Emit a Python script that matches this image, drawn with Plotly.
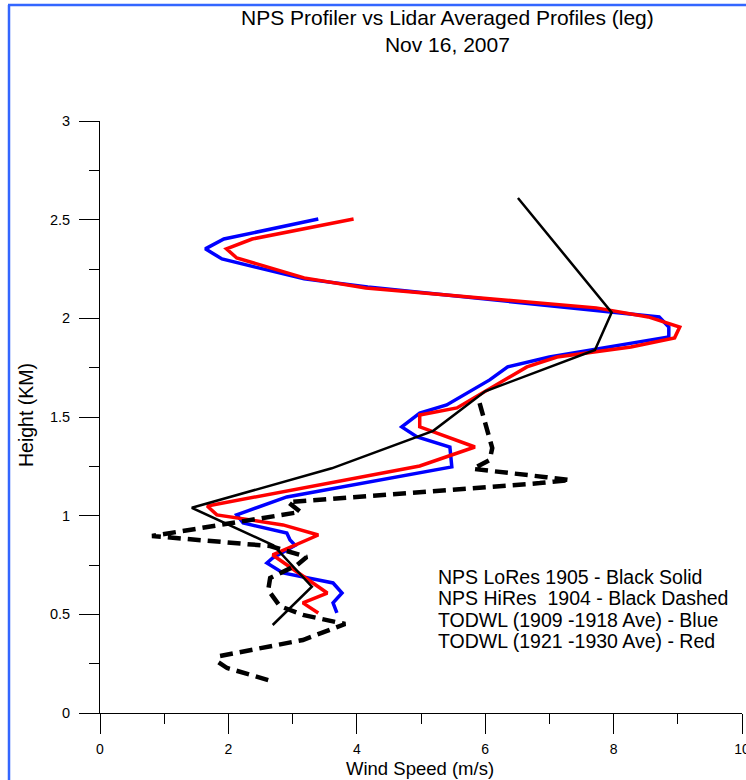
import plotly.graph_objects as go

# ---------------- data (wind speed m/s, height km) ----------------
lores_speed = [2.69, 3.30, 2.70, 1.43, 3.61, 5.19, 6.00, 7.71, 7.97, 6.51]
lores_height = [0.446, 0.64, 0.85, 1.04, 1.24, 1.43, 1.63, 1.84, 2.03, 2.61]

hires_speed = [2.62, 1.98, 1.84, 1.87, 3.16, 3.82, 3.16, 2.80, 2.62, 2.65, 3.07, 3.22,
               2.65, 0.81, 3.12, 2.93, 6.85, 7.32, 6.95, 5.81, 6.07, 6.11, 5.89]
hires_height = [0.167, 0.228, 0.258, 0.289, 0.370, 0.451, 0.497, 0.542, 0.623, 0.684, 0.750, 0.791,
                0.846, 0.897, 1.019, 1.069, 1.165, 1.181, 1.195, 1.237, 1.282, 1.343, 1.597]

blue_speed = [3.69, 3.63, 3.77, 3.63, 2.85, 2.60, 2.69, 3.04, 2.96, 2.91, 2.23, 2.13, 2.91,
              5.48, 5.45, 4.94, 4.70, 4.98, 5.40, 6.07, 6.35, 7.00, 8.86, 8.86, 8.71,
              4.17, 3.18, 1.90, 1.64, 1.93, 3.40]
blue_height = [0.507, 0.558, 0.608, 0.659, 0.710, 0.760, 0.786, 0.850, 0.877, 0.912, 0.963, 1.004, 1.095,
               1.247, 1.348, 1.399, 1.450, 1.520, 1.561, 1.688, 1.754, 1.804, 1.906, 1.956, 2.007,
               2.159, 2.200, 2.301, 2.352, 2.402, 2.503]

red_speed = [3.40, 3.16, 3.54, 3.01, 2.69, 3.40, 2.85, 1.82, 1.67, 4.98, 5.84, 4.98, 4.98,
             5.56, 6.29, 6.65, 7.12, 8.27, 8.95, 9.03, 8.54, 7.73, 4.14, 3.18, 2.13, 1.97,
             2.37, 3.21, 3.95]
red_height = [0.507, 0.558, 0.608, 0.725, 0.801, 0.902, 0.953, 1.004, 1.049, 1.252, 1.348, 1.450, 1.510,
              1.546, 1.688, 1.754, 1.804, 1.855, 1.901, 1.956, 2.007, 2.053, 2.154, 2.205, 2.306, 2.352,
              2.402, 2.458, 2.503]

x_ticks = [0, 2, 4, 6, 8, 10]
y_ticks = [0, 0.5, 1, 1.5, 2, 2.5, 3]
y_tick_labels = ["0", "0.5", "1", "1.5", "2", "2.5", "3"]

title_lines = ["NPS Profiler vs Lidar Averaged Profiles (leg)", "Nov 16, 2007"]
legend_lines = ["NPS LoRes 1905 - Black Solid",
                "NPS HiRes  1904 - Black Dashed",
                "TODWL (1909 -1918 Ave) - Blue",
                "TODWL (1921 -1930 Ave) - Red"]

# ---------------- figure ----------------
W, H = 746, 780
ML, MR, MT, MB = 100, 4, 121, 67
pw, ph = W - ML - MR, H - MT - MB

def px(x):  # pixel -> paper x
    return (x - ML) / pw

def py(y):  # pixel -> paper y
    return (H - MB - y) / ph

FONT = "Liberation Sans, Arial, sans-serif"

fig = go.Figure()
fig.add_trace(go.Scatter(x=blue_speed, y=blue_height, mode="lines",
                         line=dict(color="#0000ff", width=3.5), hoverinfo="skip"))
fig.add_trace(go.Scatter(x=red_speed, y=red_height, mode="lines",
                         line=dict(color="#ff0000", width=3.5), hoverinfo="skip"))
fig.add_trace(go.Scatter(x=lores_speed, y=lores_height, mode="lines",
                         line=dict(color="black", width=2.5), hoverinfo="skip"))
fig.add_trace(go.Scatter(x=hires_speed, y=hires_height, mode="lines",
                         line=dict(color="black", width=4.5, dash="13px,7px"), hoverinfo="skip"))

fig.update_layout(
    width=W, height=H,
    margin=dict(l=ML, r=MR, t=MT, b=MB, pad=0, autoexpand=False),
    paper_bgcolor="white", plot_bgcolor="white",
    showlegend=False,
    font=dict(family=FONT, color="black"),
)
fig.update_xaxes(range=[0, 10], tickvals=x_ticks, ticks="outside", ticklen=20, tickwidth=1,
                 tickcolor="black", showline=True, linecolor="black", linewidth=1,
                 showgrid=False, zeroline=False, tickfont=dict(size=14, family=FONT),
                 ticklabelstandoff=3, ticklabeloverflow="allow", automargin=False,
                 minor=dict(dtick=1, ticks="outside", ticklen=10, tickcolor="black", tickwidth=1, showgrid=False))
fig.update_yaxes(range=[0, 3], tickvals=y_ticks, ticktext=y_tick_labels, ticks="outside", ticklen=20,
                 tickwidth=1, tickcolor="black", showline=True, linecolor="black", linewidth=1,
                 showgrid=False, zeroline=False, tickfont=dict(size=14.5, family=FONT),
                 ticklabelstandoff=6, ticklabeloverflow="allow", automargin=False,
                 minor=dict(dtick=0.25, ticks="outside", ticklen=10, tickcolor="black", tickwidth=1, showgrid=False))

# axis titles
fig.add_annotation(text="Wind Speed (m/s)", xref="paper", yref="paper", x=px(420), y=py(768),
                   xanchor="center", yanchor="middle", showarrow=False,
                   font=dict(size=18.5, family=FONT, color="black"))
fig.add_annotation(text="Height (KM)", xref="paper", yref="paper", x=px(26), y=py(415),
                   xanchor="center", yanchor="middle", showarrow=False, textangle=-90,
                   font=dict(size=19.5, family=FONT, color="black"))

# chart title (two lines)
fig.add_annotation(text="<br>".join(title_lines), xref="paper", yref="paper",
                   x=px(447), y=py(31), xanchor="center", yanchor="middle", showarrow=False,
                   font=dict(size=21, family=FONT, color="black"))

# legend text
for i, t in enumerate(legend_lines):
    fig.add_annotation(text=t, xref="paper", yref="paper", x=px(436), y=py(577 + 21.3 * i),
                       xanchor="left", yanchor="middle", showarrow=False,
                       font=dict(size=19.5, family=FONT, color="black"))

# blue page border
fig.add_shape(type="line", xref="paper", yref="paper", x0=px(9), x1=px(9), y0=py(5), y1=py(H + 2),
              line=dict(color="#3366ff", width=2.5))
fig.add_shape(type="line", xref="paper", yref="paper", x0=px(8), x1=px(W + 2), y0=py(5), y1=py(5),
              line=dict(color="#3366ff", width=2.5))

fig.write_html("out.html")
